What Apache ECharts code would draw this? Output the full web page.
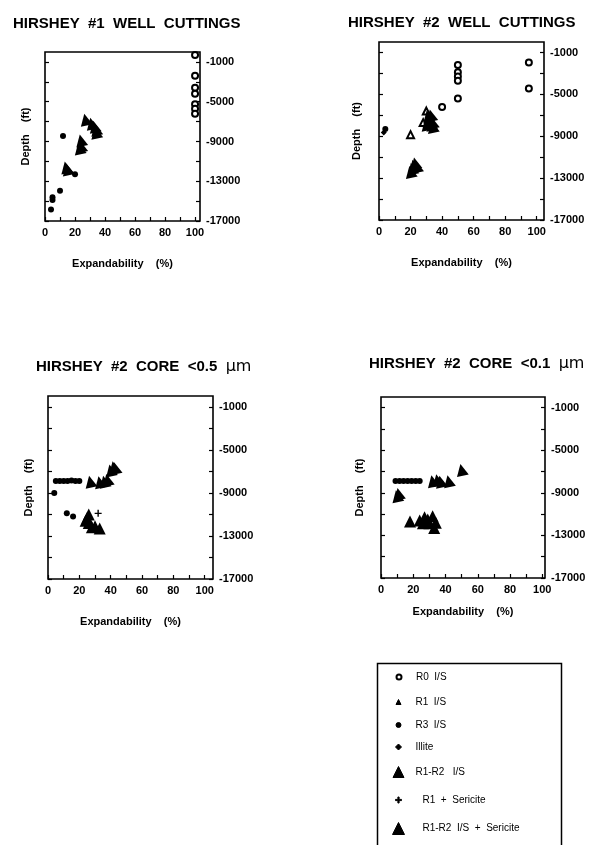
<!DOCTYPE html>
<html>
<head>
<meta charset="utf-8">
<script src="https://cdn.jsdelivr.net/npm/echarts@6/dist/echarts.min.js"></script>
<style>
  html, body { margin: 0; padding: 0; background: #fff; }
  #chart { width: 594px; height: 845px; }
</style>
</head>
<body>
<div id="chart"></div>
<script>
// axis ticks / labels
var depthLabels = [-1000, -5000, -9000, -13000, -17000]
var depthTicks = [-1000, -3000, -5000, -7000, -9000, -11000, -13000, -15000, -17000]
var expLabels = [0, 20, 40, 60, 80, 100]
var expTicks = [0, 10, 20, 30, 40, 50, 60, 70, 80, 90, 100]

var panelTitles = [
  'HIRSHEY  #1  WELL  CUTTINGS',
  'HIRSHEY  #2  WELL  CUTTINGS',
  'HIRSHEY  #2  CORE  <0.5  {u|µm}',
  'HIRSHEY  #2  CORE  <0.1  {u|µm}'
]

// [expandability %, depth ft]
// Hirshey #1 well cuttings
var p1R0 = [[100, -300], [100, -2400], [100, -3600], [100, -4200], [100, -5250], [100, -5700], [100, -6200]]
var p1R3 = [[12, -8450], [20, -12300], [10, -13950], [5, -14600], [5, -14900], [4, -15850]]
var p1R12 = [[27, -6800], [31, -7200], [33, -7500], [34, -7800], [34, -8100], [24, -8900], [24, -9500], [23, -9700], [14, -11600], [15, -11800]]

// Hirshey #2 well cuttings
var p2R0 = [[50, -2200], [50, -2900], [50, -3300], [50, -3700], [50, -5400], [40, -6200], [95, -1950], [95, -4450]]
var p2R1 = [[30, -6600], [28, -7700], [20, -8850]]
var p2R3 = [[4, -8300]]
var p2Illite = [[3, -8650]]
var p2R12 = [[31, -7100], [33, -7000], [32, -7500], [34, -7700], [33, -7900], [31, -7800], [34, -8100], [30, -7900],
  [22, -11800], [23, -11600], [21, -12100], [24, -11900], [20, -12400]]

// Hirshey #2 core <0.5 um
var p3R3 = [[5, -7900], [7.5, -7900], [10, -7900], [12.5, -7900], [15, -7850], [17.5, -7900], [20, -7900],
  [4, -9000], [12, -10900], [16, -11200]]
var p3R12 = [[27, -7950], [33, -8000], [36, -7950], [38, -7800], [40, -6900], [42, -6600], [43, -6700]]
var p3R1Ser = [[32, -10900]]
var p3R12Ser = [[25, -11300], [26, -11000], [24, -11600], [26, -11800], [28, -12200], [30, -12100], [33, -12300]]

// Hirshey #2 core <0.1 um
var p4R3 = [[9, -7900], [11.5, -7900], [14, -7900], [16.5, -7900], [19, -7900], [21.5, -7900], [24, -7900]]
var p4R12 = [[32, -7900], [35, -7800], [37, -7950], [42, -7900], [50, -6850], [10, -9300], [11, -9100]]
var p4R12Ser = [[18, -11700], [24, -11600], [27, -11300], [29, -11500], [32, -11200], [30, -11850], [26, -11850],
  [33, -12300], [34, -11800]]

var legendNames = ['R0  I/S', 'R1  I/S', 'R3  I/S', 'Illite', 'R1-R2   I/S', 'R1  +  Sericite', 'R1-R2  I/S  +  Sericite']

var FONT = 'Liberation Sans'
var plusPath = 'path://M4,0H6V4H10V6H6V10H4V6H0V4H4Z'

// marker look for each kind (legend size separately)
var markers = {
  'R0  I/S': { symbol: 'emptyCircle', size: 6, lsize: 5 },
  'R1  I/S': { symbol: 'emptyTriangle', size: 7, lsize: 5 },
  'R3  I/S': { symbol: 'circle', size: 6, lsize: 5 },
  'Illite': { symbol: 'diamond', size: 6, lsize: 6 },
  'R1-R2   I/S': { symbol: 'triangle', size: 12, lsize: 11, rotate: 12 },
  'R1  +  Sericite': { symbol: plusPath, size: 7, lsize: 6 },
  'R1-R2  I/S  +  Sericite': { symbol: 'triangle', size: 12, lsize: 12 }
}

var panels = [
  { left: 45, top: 52, width: 155, height: 169, xMax: 103.3, gapX: 37, gapY: 14,
    sets: [['R0  I/S', p1R0], ['R3  I/S', p1R3], ['R1-R2   I/S', p1R12]] },
  { left: 379, top: 42, width: 165, height: 178, xMax: 104.6, gapX: 37, gapY: 17,
    sets: [['R0  I/S', p2R0], ['R1  I/S', p2R1], ['R3  I/S', p2R3], ['Illite', p2Illite], ['R1-R2   I/S', p2R12]] },
  { left: 48, top: 396, width: 165, height: 183, xMax: 105.3, gapX: 37, gapY: 14,
    sets: [['R3  I/S', p3R3], ['R1-R2   I/S', p3R12], ['R1  +  Sericite', p3R1Ser], ['R1-R2  I/S  +  Sericite', p3R12Ser]] },
  { left: 381, top: 397, width: 164, height: 181, xMax: 101.7, gapX: 28, gapY: 16,
    sets: [['R3  I/S', p4R3], ['R1-R2   I/S', p4R12], ['R1-R2  I/S  +  Sericite', p4R12Ser]] }
]
var titlePos = [[8, 11], [343, 10], [31, 354], [364, 351]]

var grid = [], xAxis = [], yAxis = [], series = [], title = []
panels.forEach(function(p, i) {
  grid.push({
    left: p.left, top: p.top, width: p.width, height: p.height,
    show: true, borderColor: '#000', borderWidth: 1.6, backgroundColor: 'transparent'
  })
  xAxis.push({
    gridIndex: i, type: 'value', min: 0, max: p.xMax, position: 'bottom',
    name: 'Expandability    (%)', nameLocation: 'middle', nameGap: p.gapX,
    nameTextStyle: { fontFamily: FONT, fontWeight: 'bold', fontSize: 11, color: '#000' },
    axisLine: { show: false, onZero: false }, splitLine: { show: false },
    axisTick: { inside: true, length: 4, customValues: expTicks, lineStyle: { color: '#000', width: 1.2 } },
    axisLabel: { customValues: expLabels, margin: 6, fontFamily: FONT, fontWeight: 'bold', fontSize: 11, color: '#000' }
  })
  // labelled depth axis on the right
  yAxis.push({
    gridIndex: i, type: 'value', position: 'right', min: -17000, max: 0,
    axisLine: { show: false, onZero: false }, splitLine: { show: false },
    axisTick: { inside: true, length: 4, customValues: depthTicks, lineStyle: { color: '#000', width: 1.2 } },
    axisLabel: {
      customValues: depthLabels, margin: 6, fontFamily: FONT, fontWeight: 'bold', fontSize: 11, color: '#000',
      formatter: function(v) { return String(v) }
    }
  })
  // left side: ticks and the axis name only
  yAxis.push({
    gridIndex: i, type: 'value', position: 'left', min: -17000, max: 0,
    name: 'Depth    (ft)', nameLocation: 'middle', nameGap: p.gapY, nameRotate: 90,
    nameTextStyle: { fontFamily: FONT, fontWeight: 'bold', fontSize: 11, color: '#000' },
    axisLine: { show: false, onZero: false }, splitLine: { show: false },
    axisTick: { inside: true, length: 4, customValues: depthTicks, lineStyle: { color: '#000', width: 1.2 } },
    axisLabel: { show: false }
  })
  p.sets.forEach(function(s) {
    var m = markers[s[0]]
    var empty = m.symbol.indexOf('empty') === 0
    series.push({
      type: 'scatter', name: s[0], xAxisIndex: i, yAxisIndex: i * 2,
      data: s[1], symbol: m.symbol, symbolSize: m.size, symbolRotate: m.rotate || 0,
      itemStyle: { color: '#000', borderColor: '#000', borderWidth: empty ? 1.2 : 0, opacity: 1 },
      emphasis: { disabled: true }, silent: true
    })
  })
  title.push({
    text: panelTitles[i], left: titlePos[i][0], top: titlePos[i][1],
    textStyle: {
      fontFamily: FONT, fontWeight: 'bold', fontSize: 15, color: '#000',
      rich: { u: { fontFamily: 'DejaVu Sans', fontWeight: 'normal', fontSize: 16, color: '#000' } }
    }
  })
})

// legend: one small component per row inside the box
var legendRowsY = [678, 703, 726, 748, 772, 801, 828]
var legend = legendNames.map(function(n, k) {
  var m = markers[n]
  var s = m.lsize
  var h = Math.max(s, 12)
  var item = { name: n }
  if (n === 'R1  I/S') item.icon = 'triangle'
  var textX = k < 5 ? 415 : 422
  return {
    data: [item], left: 398 - s / 2, top: legendRowsY[k] - h / 2, padding: 0,
    itemWidth: s, itemHeight: s, selectedMode: false,
    itemStyle: { borderWidth: 1 },
    textStyle: { fontFamily: FONT, fontSize: 10, color: '#000', padding: [0, 0, 0, textX - (398 + s / 2 + 5)] }
  }
})

var chart = echarts.init(document.getElementById('chart'))
chart.setOption({
  backgroundColor: '#fff',
  animation: false,
  title: title,
  grid: grid,
  xAxis: xAxis,
  yAxis: yAxis,
  legend: legend,
  series: series,
  graphic: [{
    type: 'rect', left: 375, top: 661, z: -1,
    shape: { width: 184, height: 200 },
    style: { fill: 'none', stroke: '#000', lineWidth: 1.5 }
  }]
})
</script>
</body>
</html>
